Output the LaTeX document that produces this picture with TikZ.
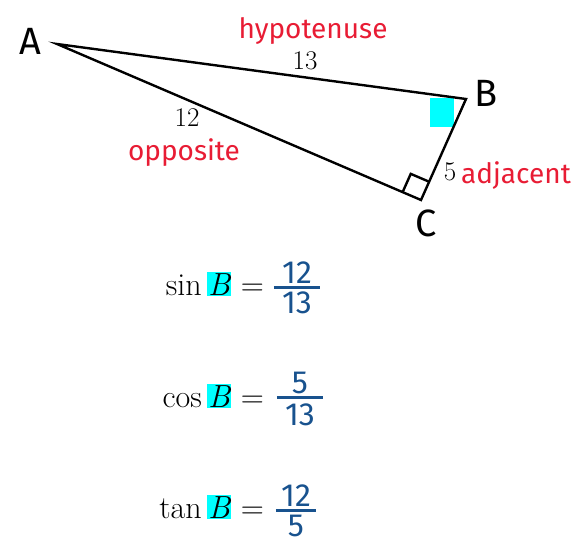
\documentclass[tikz,border=0pt]{standalone}
\usepackage{fontspec}
\usepackage{xcolor}
\usetikzlibrary{positioning,calc}
\newfontfamily\handfont{Fira Sans}
\definecolor{markred}{RGB}{232,28,52}
\definecolor{inkblue}{RGB}{24,82,142}
\definecolor{hlcyan}{RGB}{0,255,255}
\setlength{\fboxsep}{1pt}
\newcommand{\hlB}{\colorbox{hlcyan}{\itshape B}}

\begin{document}
\begin{tikzpicture}[x=1pt,y=-1pt,
  vname/.style={font=\handfont\fontsize{38}{38}\selectfont},
  word/.style={font=\handfont\fontsize{28}{28}\selectfont, text=markred},
  side/.style={font=\fontsize{27}{27}\selectfont},
  lhs/.style={font=\fontsize{32}{32}\selectfont, anchor=base east, inner sep=0pt},
  digit/.style={font=\handfont\fontsize{32}{32}\selectfont, text=inkblue,
                inner xsep=0pt, inner ysep=3pt, minimum width=46pt},
  bar/.style={draw=inkblue, line width=3pt},
  leg/.style={line width=2.4pt, line join=miter},
]
  \useasboundingbox (0,0) rectangle (583,544);
  %% triangle
  \coordinate (A) at (57,44);
  \coordinate (B) at (466,99);
  \coordinate (C) at (421,200);
  \fill[hlcyan] (430,98) rectangle (454,127);
  \draw[leg] (A) -- (B) -- (C) -- cycle;
  \coordinate (ca) at ($(C)!20pt!(A)$);
  \coordinate (cb) at ($(C)!20pt!(B)$);
  \draw[leg] (ca) -- ($(ca)+(cb)-(C)$) -- (cb);
  \node[vname] (labA) at (30,41)  {A};
  \node[vname] (labB) at (486,93) {B};
  \node[vname] (labC) at (426,223) {C};
  \node[word] (hyp) at (313,31)  {hypotenuse};
  \node[word] (opp) at (184,153) {opposite};
  \node[word] (adj) at (516,176) {adjacent};
  \node[side] (s13) at (305,61)  {13};
  \node[side] (s12) at (187,118) {12};
  \node[side] (s5)  at (450,172) {5};
  %% ratios
  \node[lhs] (sinL) at (264,295) {sin\,\hlB\ =};
  \node[digit, anchor=south] (sinN) at (297,287) {12};
  \node[digit, anchor=north] (sinD) at (297,289) {13};
  \draw[bar] (sinN.south west) -- (sinN.south east);
  \node[lhs] (cosL) at (264,407) {cos\,\hlB\ =};
  \node[digit, anchor=south] (cosN) at (300,397) {5};
  \node[digit, anchor=north] (cosD) at (300,401) {13};
  \draw[bar] (cosN.south west) -- (cosN.south east);
  \node[lhs] (tanL) at (264,518) {tan\,\hlB\ =};
  \node[digit, anchor=south, minimum width=40pt] (tanN) at (296,510) {12};
  \node[digit, anchor=north, minimum width=40pt] (tanD) at (296,512) {5};
  \draw[bar] (tanN.south west) -- (tanN.south east);
\end{tikzpicture}
\end{document}
